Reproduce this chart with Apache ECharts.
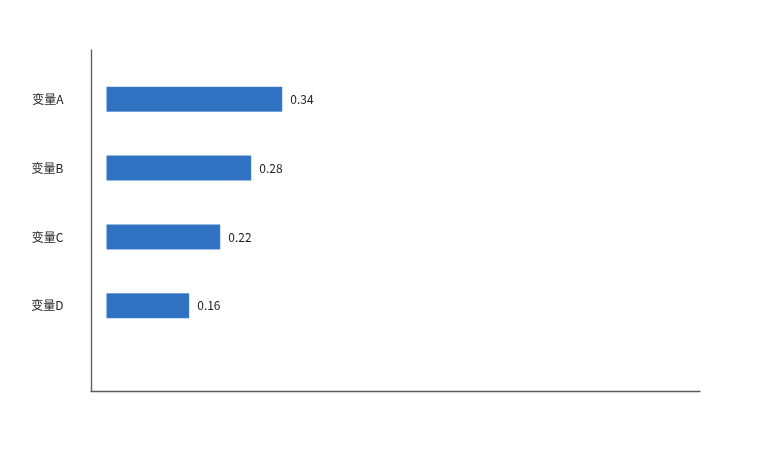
<!DOCTYPE html>
<html><head><meta charset="utf-8">
<script src="https://cdn.jsdelivr.net/npm/echarts@6/dist/echarts.min.js"></script>
<style>html,body{margin:0;padding:0;background:#fff}#c{width:761px;height:450px}</style>
</head><body><div id="c"></div>
<script>
var categories = ['变量A', '变量B', '变量C', '变量D'];
var values = [0.34, 0.28, 0.22, 0.16];

var chart = echarts.init(document.getElementById('c'));
chart.setOption({
  animation: false,
  backgroundColor: '#fff',
  grid: [
    { left: 91, right: 61, top: 50, bottom: 59 },
    { left: 106.5, right: 61, top: 64.75, bottom: 109.75 }
  ],
  xAxis: [
    { gridIndex: 0, type: 'value', min: 0, max: 1,
      axisLine: { show: true, lineStyle: { color: '#5a5a66', width: 1.3 } },
      axisTick: { show: false }, axisLabel: { show: false }, splitLine: { show: false } },
    { gridIndex: 1, type: 'value', min: 0, max: 1.148,
      axisLine: { show: false }, axisTick: { show: false }, axisLabel: { show: false }, splitLine: { show: false } }
  ],
  yAxis: [
    { gridIndex: 0, type: 'value', min: 0, max: 1,
      axisLine: { show: true, lineStyle: { color: '#5a5a66', width: 1.3 } },
      axisTick: { show: false }, axisLabel: { show: false }, splitLine: { show: false } },
    { gridIndex: 1, type: 'category', data: categories, inverse: true,
      axisLine: { show: false }, axisTick: { show: false }, splitLine: { show: false },
      axisLabel: { margin: 43, color: '#222', fontSize: 12, fontFamily: 'Noto Sans CJK SC' } }
  ],
  series: [{
    type: 'bar', xAxisIndex: 1, yAxisIndex: 1,
    data: values, barWidth: 25,
    itemStyle: { color: '#2F72C2', borderColor: '#4a86cc', borderWidth: 0.5 },
    label: { show: true, position: 'right', distance: 8, color: '#222', fontSize: 12,
      fontFamily: 'Noto Sans CJK SC', formatter: function (p) { return p.value.toFixed(2); } }
  }]
});
</script></body></html>
